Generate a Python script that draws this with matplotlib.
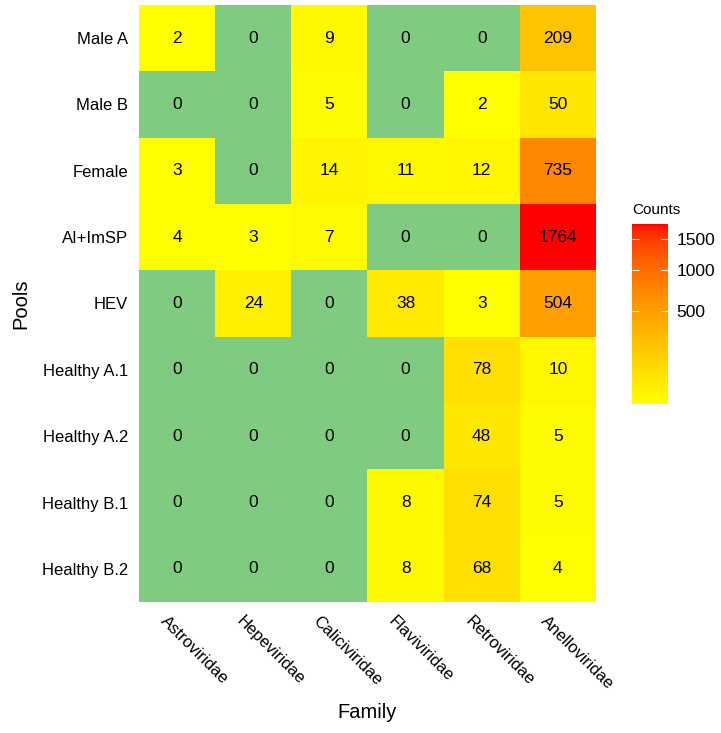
import numpy as np
import matplotlib
matplotlib.use('Agg')
import matplotlib.pyplot as plt
from matplotlib.colors import ListedColormap, FuncNorm
from matplotlib.transforms import ScaledTranslation

plt.rcParams['font.family'] = ['Liberation Sans', 'DejaVu Sans']

pools = ['Male A', 'Male B', 'Female', 'AI+ImSP', 'HEV',
         'Healthy A.1', 'Healthy A.2', 'Healthy B.1', 'Healthy B.2']
families = ['Astroviridae', 'Hepeviridae', 'Caliciviridae',
            'Flaviviridae', 'Retroviridae', 'Anelloviridae']

male_a = [2, 0, 9, 0, 0, 209]
male_b = [0, 0, 5, 0, 2, 50]
female = [3, 0, 14, 11, 12, 735]
ai_imsp = [4, 3, 7, 0, 0, 1764]
hev = [0, 24, 0, 38, 3, 504]
healthy_a1 = [0, 0, 0, 0, 78, 10]
healthy_a2 = [0, 0, 0, 0, 48, 5]
healthy_b1 = [0, 0, 0, 8, 74, 5]
healthy_b2 = [0, 0, 0, 8, 68, 4]

colorbar_ticks = [500, 1000, 1500]

counts = np.array([male_a, male_b, female, ai_imsp, hev,
                   healthy_a1, healthy_a2, healthy_b1, healthy_b2])

ZERO_COLOR = '#7FCB7F'


# yellow -> red gradient interpolated in Lab space (like ggplot)
def srgb_to_lab(rgb):
    rgb = np.asarray(rgb, dtype=float)
    lin = np.where(rgb <= 0.04045, rgb / 12.92, ((rgb + 0.055) / 1.055) ** 2.4)
    m = np.array([[0.4124, 0.3576, 0.1805],
                  [0.2126, 0.7152, 0.0722],
                  [0.0193, 0.1192, 0.9505]])
    xyz = m @ lin / np.array([0.95047, 1.0, 1.08883])
    f = np.where(xyz > 0.008856, np.cbrt(xyz), 7.787 * xyz + 16 / 116)
    return np.array([116 * f[1] - 16, 500 * (f[0] - f[1]), 200 * (f[1] - f[2])])


def lab_to_srgb(lab):
    fy = (lab[0] + 16) / 116
    fx = fy + lab[1] / 500
    fz = fy - lab[2] / 200
    f = np.array([fx, fy, fz])
    xyz = np.where(f ** 3 > 0.008856, f ** 3, (f - 16 / 116) / 7.787)
    xyz = xyz * np.array([0.95047, 1.0, 1.08883])
    m_inv = np.array([[3.2406, -1.5372, -0.4986],
                      [-0.9689, 1.8758, 0.0415],
                      [0.0557, -0.2040, 1.0570]])
    lin = m_inv @ xyz
    rgb = np.where(lin <= 0.0031308, 12.92 * lin, 1.055 * np.clip(lin, 0, None) ** (1 / 2.4) - 0.055)
    return np.clip(rgb, 0, 1)


low = srgb_to_lab([1.0, 1.0, 0.0])
high = srgb_to_lab([1.0, 0.0, 0.0])
ramp = [lab_to_srgb(low + t * (high - low)) for t in np.linspace(0, 1, 256)]
cmap = ListedColormap(ramp)
cmap.set_bad(ZERO_COLOR)

norm = FuncNorm((np.sqrt, np.square), vmin=counts[counts > 0].min(), vmax=counts.max())

fig = plt.figure(figsize=(7.21, 7.33), dpi=100)
ax = fig.add_axes([0.1928, 0.1787, 0.6338, 0.8145])

masked = np.ma.masked_where(counts == 0, counts)
mesh = ax.pcolormesh(np.arange(len(families) + 1) - 0.5,
                     np.arange(len(pools) + 1) - 0.5,
                     masked, cmap=cmap, norm=norm)
ax.set_xlim(-0.5, len(families) - 0.5)
ax.set_ylim(len(pools) - 0.5, -0.5)

# numbers in cells
for i in range(len(pools)):
    for j in range(len(families)):
        ax.text(j, i, str(counts[i, j]), ha='center', va='center', fontsize=12.5)

ax.set_yticks(range(len(pools)))
ax.set_yticklabels(pools, fontsize=12)
ax.set_xticks(range(len(families)))
ax.set_xticklabels(families, fontsize=12, rotation=-45, ha='left', va='top',
                   rotation_mode='anchor')
ax.tick_params(length=0, pad=8)
# nudge rotated labels a bit to the left
shift = ScaledTranslation(-9 / 100, 0, fig.dpi_scale_trans)
for lbl in ax.get_xticklabels():
    lbl.set_transform(lbl.get_transform() + shift)
for s in ax.spines.values():
    s.set_visible(False)
ax.set_xlabel('Family', fontsize=14.5, labelpad=8)
ax.set_ylabel('Pools', fontsize=14.5, labelpad=8)

# colour bar
cax = fig.add_axes([0.8766, 0.4488, 0.0499, 0.2456])
cb = fig.colorbar(mesh, cax=cax, ticks=colorbar_ticks)
cb.outline.set_visible(False)
cax.tick_params(axis='y', direction='in', color='white', length=5, width=0.8,
                left=True, right=True, labelsize=12.5, pad=6)
cax.set_title('Counts', fontsize=11, loc='left', pad=7)

fig.savefig('out.png', dpi=100)
